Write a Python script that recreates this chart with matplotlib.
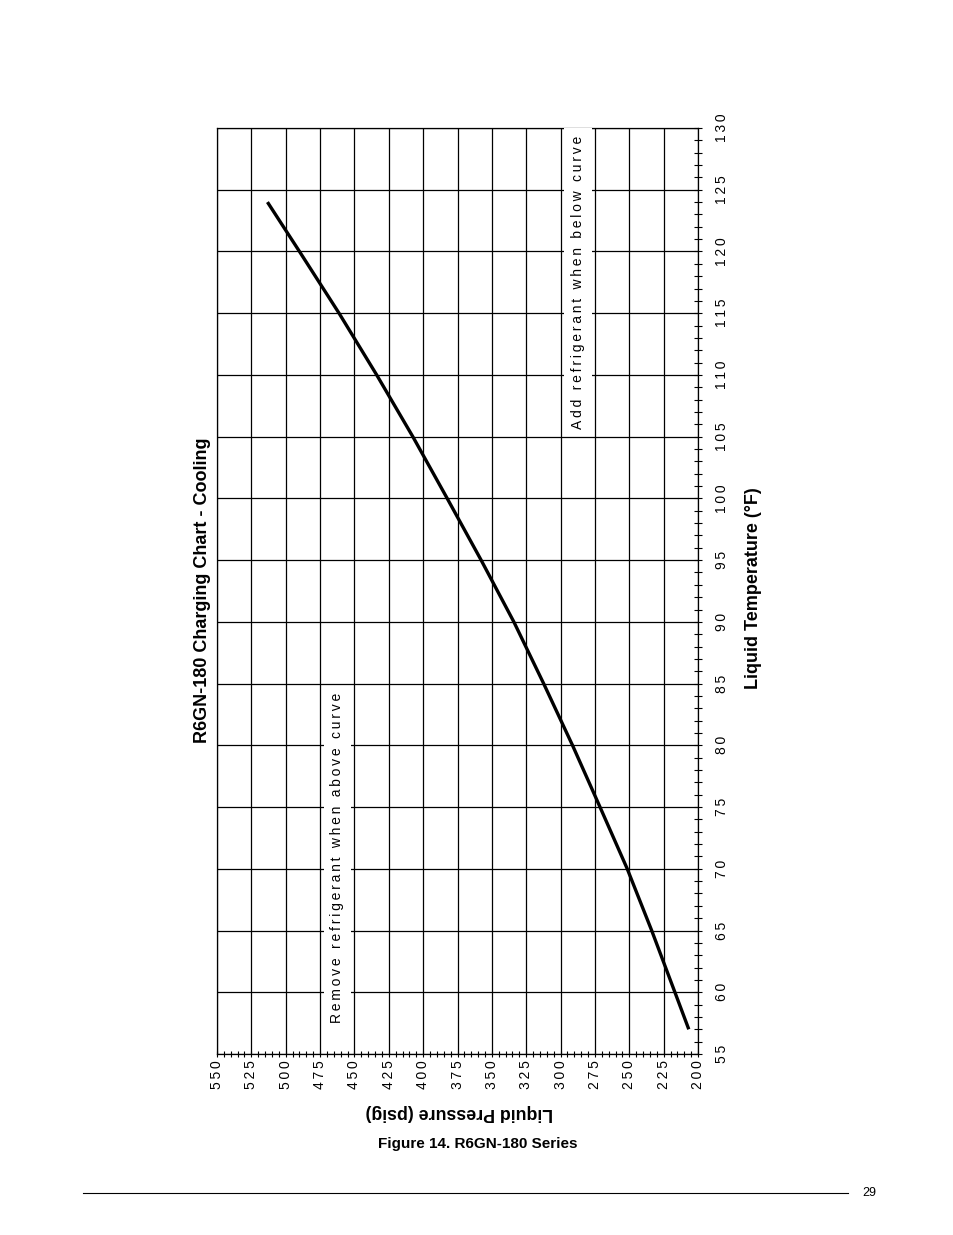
import matplotlib
matplotlib.use('Agg')
import matplotlib.pyplot as plt
from matplotlib.lines import Line2D

plt.rcParams['font.family'] = ['Liberation Sans', 'DejaVu Sans']

# charging curve: liquid temperature (F) vs liquid pressure (psig)
temp_f = [57, 60, 65, 70, 75, 80, 85, 90, 95, 100, 105, 110, 115, 120, 124]
pressure_psig = [206.7, 216.8, 233.7, 251.5, 271.3, 291.3, 312.3, 334.0,
                 357.8, 382.5, 407.5, 433.8, 461.2, 490.0, 513.3]

pressure_ticks = list(range(200, 551, 25))
temp_ticks = list(range(55, 131, 5))

TS = '\u2009'  # thin space used as letter spacing


def spaced(s):
    return TS.join(s)


W, H = 954, 1235
fig = plt.figure(figsize=(W / 100, H / 100), dpi=100, facecolor='white')

# plot box in page pixels
L, R, T, B = 217, 698, 128, 1054
ax = fig.add_axes([L / W, 1 - B / H, (R - L) / W, (B - T) / H])

ax.plot(pressure_psig, temp_f, color='black', linewidth=2.4,
        solid_capstyle='butt', solid_joinstyle='round', zorder=2)

ax.set_xlim(550, 200)
ax.set_ylim(55, 130)

ax.set_xticks(pressure_ticks)
ax.set_xticks(range(200, 551, 5), minor=True)
ax.set_yticks(temp_ticks)
ax.set_yticks(range(55, 131), minor=True)
ax.set_xticklabels([spaced(str(p)) for p in pressure_ticks], rotation=90,
                   fontsize=10)
ax.set_yticklabels([spaced(str(t)) for t in temp_ticks], rotation=90,
                   fontsize=10, va='center')

ax.yaxis.tick_right()
ax.xaxis.tick_bottom()
ax.tick_params(axis='x', which='both', direction='inout', length=5,
               width=0.8, color='black', pad=2)
ax.tick_params(axis='y', which='both', direction='inout', length=6.2,
               width=0.8, color='black', pad=9.5)

ax.grid(which='major', color='black', linewidth=0.9)
for sp in ax.spines.values():
    sp.set_linewidth(0.9)
    sp.set_color('black')

box = dict(facecolor='white', edgecolor='none', pad=5)
ax.text(0.2505, 0.2117, spaced('Remove refrigerant when above curve'),
        transform=ax.transAxes, rotation=90, ha='center', va='center',
        fontsize=10, bbox=box, zorder=3)
ax.text(0.7505, 0.8337, spaced('Add refrigerant when below curve'),
        transform=ax.transAxes, rotation=90, ha='center', va='center',
        fontsize=10, bbox=box, zorder=3)

# page texts
fig.text(203 / W, 1 - 590 / H, 'R6GN-180 Charging Chart - Cooling',
         rotation=90, ha='center', va='center', fontsize=13, weight='bold')
fig.text(753 / W, 1 - 588 / H, 'Liquid Temperature (°F)',
         rotation=90, ha='center', va='center', fontsize=13, weight='bold')
fig.text(459 / W, 1 - 1113 / H, 'Liquid Pressure (psig)',
         rotation=180, ha='center', va='center', fontsize=12.8, weight='bold')
fig.text(478 / W, 1 - 1144 / H, 'Figure 14. R6GN-180 Series',
         ha='center', va='center', fontsize=11, weight='bold')

fig.add_artist(Line2D([83 / W, 848 / W], [1 - 1193 / H, 1 - 1193 / H],
                      color='black', linewidth=0.8))
fig.text(869 / W, 1 - 1193 / H, '29', ha='center', va='center', fontsize=9)

fig.savefig('out.png', dpi=100, facecolor='white')
